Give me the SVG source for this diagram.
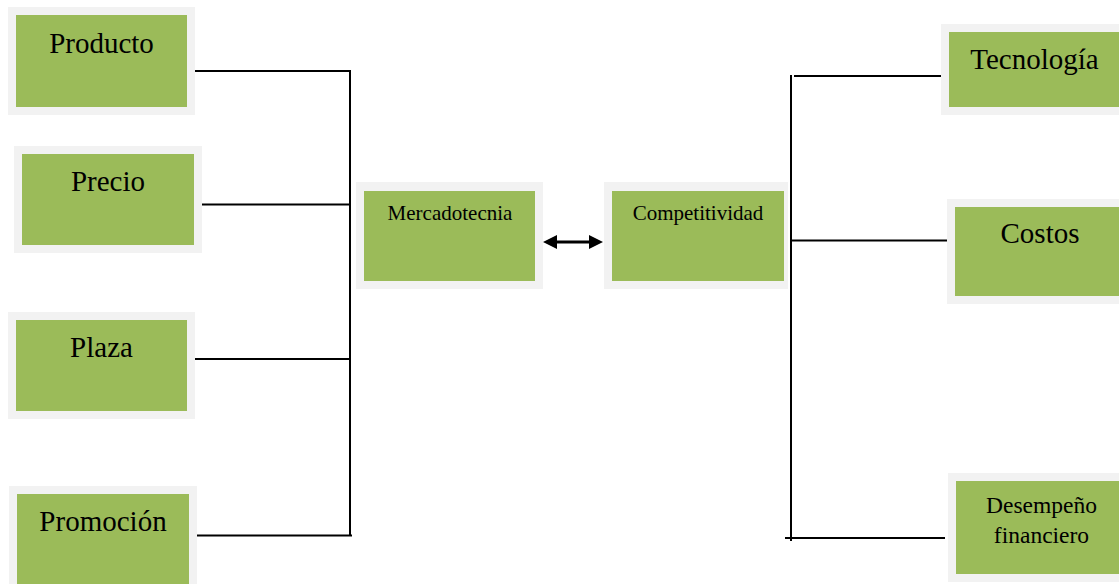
<svg xmlns="http://www.w3.org/2000/svg" width="1119" height="584" viewBox="0 0 1119 584">
<defs>
<style>
.frame{fill:#f2f2f2}
.box{fill:#9bbb59}
.big{font-family:"Liberation Serif","Times New Roman",serif;font-size:29px;fill:#000;text-anchor:middle}
.small{font-family:"Liberation Serif","Times New Roman",serif;font-size:21px;fill:#000;text-anchor:middle}
.mid{font-family:"Liberation Serif","Times New Roman",serif;font-size:23.5px;fill:#000;text-anchor:middle}
.ln{stroke:#000;stroke-width:2;fill:none}
.arr{stroke:#000;stroke-width:3;fill:none}
</style>
<marker id="ah" viewBox="0 0 14 14" refX="9" refY="7" markerWidth="14" markerHeight="14" markerUnits="userSpaceOnUse" orient="auto-start-reverse">
<path d="M0,0 L14,7 L0,14 z" fill="#000"/>
</marker>
</defs>
<rect width="1119" height="584" fill="#fff"/>
<g id="connectors">
<polyline class="ln" points="195,71 350,71 350,536"/>
<line class="ln" x1="202" y1="204.5" x2="350" y2="204.5"/>
<line class="ln" x1="195" y1="359" x2="350" y2="359"/>
<line class="ln" x1="197" y1="535.5" x2="352" y2="535.5"/>
<line class="ln" x1="791" y1="75" x2="791" y2="541"/>
<line class="ln" x1="794" y1="76" x2="941" y2="76"/>
<line class="ln" x1="791" y1="240.5" x2="947" y2="240.5"/>
<line class="ln" x1="785" y1="538" x2="945" y2="538"/>
<line class="arr" x1="548" y1="242" x2="598" y2="242" marker-start="url(#ah)" marker-end="url(#ah)"/>
</g>
<g id="producto">
<rect class="frame" x="8" y="7" width="187" height="108"/>
<rect class="box" x="16" y="15" width="171" height="92"/>
<text class="big" x="101.5" y="53">Producto</text>
</g>
<g id="precio">
<rect class="frame" x="14" y="146" width="188" height="107"/>
<rect class="box" x="22" y="154" width="172" height="91"/>
<text class="big" x="108" y="191">Precio</text>
</g>
<g id="plaza">
<rect class="frame" x="8" y="312" width="187" height="107"/>
<rect class="box" x="16" y="320" width="171" height="91"/>
<text class="big" x="101.5" y="357">Plaza</text>
</g>
<g id="promocion">
<rect class="frame" x="9" y="486" width="188" height="108"/>
<rect class="box" x="17" y="494" width="172" height="100"/>
<text class="big" x="103" y="531">Promoción</text>
</g>
<g id="mercadotecnia">
<rect class="frame" x="356" y="182" width="187" height="107"/>
<rect class="box" x="364" y="191" width="171" height="90"/>
<text class="small" x="450" y="220">Mercadotecnia</text>
</g>
<g id="competitividad">
<rect class="frame" x="604" y="182" width="184" height="107"/>
<rect class="box" x="612" y="191" width="172" height="90"/>
<text class="small" x="698" y="220">Competitividad</text>
</g>
<g id="tecnologia">
<rect class="frame" x="941" y="24" width="190" height="91"/>
<rect class="box" x="949" y="32" width="171" height="75"/>
<text class="big" x="1034.5" y="69">Tecnología</text>
</g>
<g id="costos">
<rect class="frame" x="947" y="199" width="190" height="105"/>
<rect class="box" x="955" y="207" width="171" height="89"/>
<text class="big" x="1040" y="243">Costos</text>
</g>
<g id="desempeno">
<rect class="frame" x="948" y="473" width="190" height="109"/>
<rect class="box" x="956" y="481" width="171" height="93"/>
<text class="mid" x="1041.5" y="513">Desempeño</text>
<text class="mid" x="1041.5" y="543">financiero</text>
</g>
</svg>
